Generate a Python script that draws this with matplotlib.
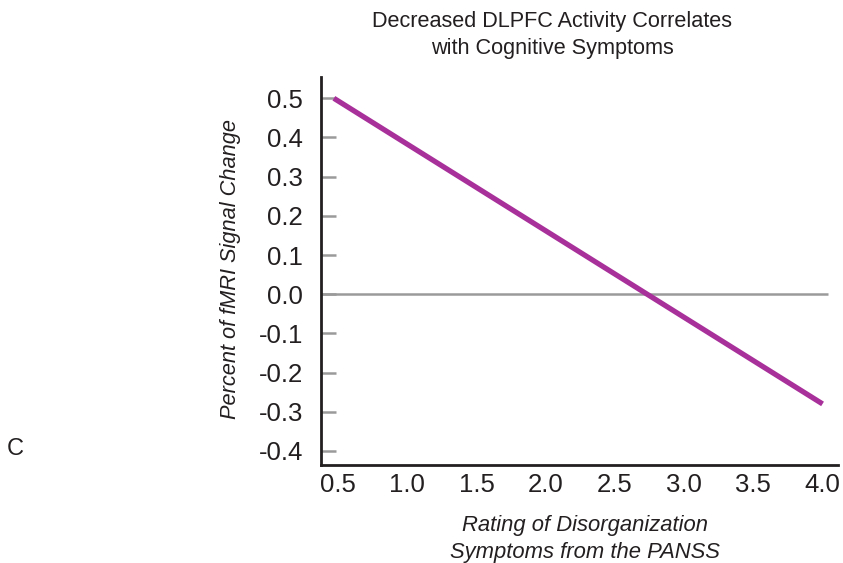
import matplotlib
matplotlib.use("Agg")
import matplotlib.pyplot as plt

# Regression line of DLPFC signal change on disorganization rating
rating = [0.47, 4.0]
signal_change = [0.50, -0.28]

x_ticks = [0.5, 1.0, 1.5, 2.0, 2.5, 3.0, 3.5, 4.0]
x_tick_labels = ["0.5", "1.0", "1.5", "2.0", "2.5", "3.0", "3.5", "4.0"]
y_ticks = [0.5, 0.4, 0.3, 0.2, 0.1, 0.0, -0.1, -0.2, -0.3, -0.4]
y_tick_labels = ["0.5", "0.4", "0.3", "0.2", "0.1", "0.0", "-0.1", "-0.2", "-0.3", "-0.4"]

plt.rcParams["font.family"] = ["Liberation Sans", "DejaVu Sans"]

fig = plt.figure(figsize=(8.43, 5.63), dpi=100)
ax = fig.add_axes([0.3808, 0.174, 0.613, 0.689])

ax.set_xlim(0.377, 4.11)
ax.set_ylim(-0.436, 0.554)

# zero reference line
ax.plot([0.38, 4.04], [0, 0], color="#9a9a9a", lw=1.8, solid_capstyle="butt", zorder=1)
ax.plot(rating, signal_change, color="#a8309a", lw=3.8, solid_capstyle="butt", zorder=2)

for side in ("top", "right"):
    ax.spines[side].set_visible(False)
for side in ("left", "bottom"):
    ax.spines[side].set_color("#231f20")
    ax.spines[side].set_linewidth(2.0)

ax.set_yticks(y_ticks)
ax.set_yticklabels(y_tick_labels)
ax.tick_params(axis="y", direction="in", length=10.5, width=1.8, color="#9a9a9a",
               pad=13, labelsize=18.5, labelcolor="#231f20")
ax.set_xticks(x_ticks)
ax.set_xticklabels(x_tick_labels)
ax.tick_params(axis="x", length=0, pad=6, labelsize=18.5, labelcolor="#231f20")

fig.text(0.655, 0.938, "Decreased DLPFC Activity Correlates\nwith Cognitive Symptoms",
         ha="center", va="center", fontsize=15.6, color="#231f20", linespacing=1.4)
fig.text(0.694, 0.043, "Rating of Disorganization\nSymptoms from the PANSS",
         ha="center", va="center", fontsize=15.8, style="italic", color="#231f20",
         linespacing=1.4)
fig.text(0.274, 0.522, "Percent of fMRI Signal Change", rotation=90,
         ha="center", va="center", fontsize=15.7, style="italic", color="#231f20")
fig.text(0.018, 0.203, "C", ha="center", va="center", fontsize=17, color="#231f20")

fig.savefig("out.png", dpi=100)
